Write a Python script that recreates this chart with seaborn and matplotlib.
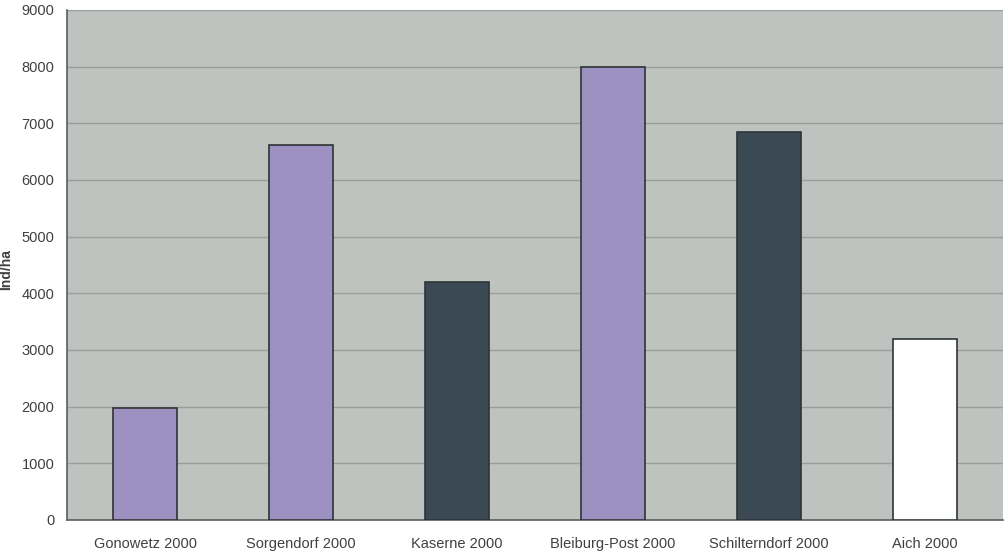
import matplotlib
matplotlib.use("Agg")
import matplotlib.pyplot as plt
import seaborn as sns
import pandas as pd
import numpy as np

# Individual density per site (Ind/ha)
sites = ["Gonowetz 2000", "Sorgendorf 2000", "Kaserne 2000",
         "Bleiburg-Post 2000", "Schilterndorf 2000", "Aich 2000"]
density = [1980, 6620, 4200, 7990, 6840, 3190]
bar_colors = ["#9c91c1", "#9c91c1", "#3b4955", "#9c91c1", "#3b4955", "#ffffff"]
y_ticks = [0, 1000, 2000, 3000, 4000, 5000, 6000, 7000, 8000, 9000]

df = pd.DataFrame({"site": sites, "density": density})

sns.set_style("white")
plt.rcParams["font.family"] = ["Liberation Sans", "DejaVu Sans"]

fig = plt.figure(figsize=(10.05, 5.52), dpi=100)
fig.patch.set_facecolor("white")
ax = fig.add_axes([0.0667, 0.058, 0.9313, 0.924])
ax.set_facecolor("#bfc3c0")

sns.barplot(data=df, x="site", y="density", hue="site", palette=bar_colors,
            legend=False, width=0.41, edgecolor="#2e3436", linewidth=1.2,
            saturation=1, ax=ax, zorder=3)

ax.set_ylim(0, 9000)
ax.set_xlim(-0.5, len(sites) - 0.5)
ax.set_yticks(y_ticks)
ax.set_yticklabels([str(t) for t in y_ticks])
ax.yaxis.grid(True, color="#9a9f9c", linewidth=1.0, zorder=0)
ax.set_axisbelow(True)

# category separators as outward ticks on the x axis
ax.set_xticks(np.arange(len(sites)))
ax.set_xticks(np.arange(-0.5, len(sites), 1.0), minor=True)
ax.tick_params(axis="x", which="major", length=0, pad=12,
               labelsize=10.5, labelcolor="#404040")
ax.tick_params(axis="x", which="minor", length=4, color="#5a5f5c", direction="out")
ax.tick_params(axis="y", length=5, color="#5a5f5c", direction="out",
               labelsize=10.5, labelcolor="#404040", pad=4)

for side in ["top", "right"]:
    ax.spines[side].set_visible(False)
for side in ["left", "bottom"]:
    ax.spines[side].set_color("#5a5f5c")
    ax.spines[side].set_linewidth(1.2)

ax.set_xlabel("")
ax.set_ylabel("Ind/ha", fontsize=10, fontweight="bold", color="#404040")
ax.yaxis.set_label_coords(-0.058, 0.49)

fig.savefig("out.png", dpi=100, facecolor="white")
